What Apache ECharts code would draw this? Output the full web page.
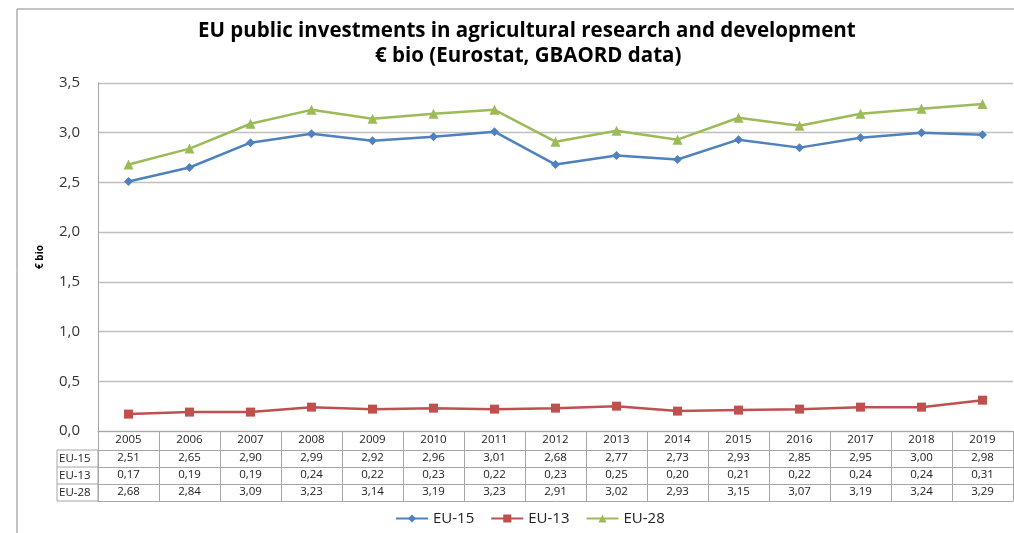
<!DOCTYPE html>
<html>
<head>
<meta charset="utf-8">
<script src="https://cdn.jsdelivr.net/npm/echarts@6/dist/echarts.min.js"></script>
<style>html,body{margin:0;padding:0;background:#fff}#c{width:1014px;height:533px}</style>
</head>
<body>
<div id="c"></div>
<script>
var years = ['2005','2006','2007','2008','2009','2010','2011','2012','2013','2014','2015','2016','2017','2018','2019'];
var seriesNames = ['EU-15','EU-13','EU-28'];
var eu15 = [2.51,2.65,2.90,2.99,2.92,2.96,3.01,2.68,2.77,2.73,2.93,2.85,2.95,3.00,2.98];
var eu13 = [0.17,0.19,0.19,0.24,0.22,0.23,0.22,0.23,0.25,0.20,0.21,0.22,0.24,0.24,0.31];
var eu28 = [2.68,2.84,3.09,3.23,3.14,3.19,3.23,2.91,3.02,2.93,3.15,3.07,3.19,3.24,3.29];
var titleLine1 = 'EU public investments in agricultural research and development';
var titleLine2 = '€ bio (Eurostat, GBAORD data)';
var yName = '€ bio';

var rows = [eu15, eu13, eu28];
var colors = ['#4F81BD','#C0504D','#9BBB59'];
var symbols = ['diamond','rect','triangle'];
var symSizes = [9,9,10];
var border = '#A6A6A6';
var fmt = function (v, d) { return v.toFixed(d).replace('.', ','); };
var font = '"Open Sans", "Noto Sans", sans-serif';

var chart = echarts.init(document.getElementById('c'));
var xAxes = [{
  type: 'category', data: years, boundaryGap: true, position: 'bottom',
  axisLine: { show: true, lineStyle: { color: border, width: 1 } },
  axisTick: { show: true, length: 70, lineStyle: { color: border } },
  axisLabel: { margin: 3, fontSize: 11.5, color: '#222', fontFamily: font }
}];
rows.forEach(function (arr, r) {
  xAxes.push({
    type: 'category', data: years, position: 'bottom', offset: 19 + 17 * r,
    axisLine: { show: true, lineStyle: { color: border } },
    axisTick: { show: false },
    axisLabel: { margin: 2, fontSize: 11.5, color: '#222', fontFamily: font,
      formatter: function (v, i) { return fmt(arr[i], 2); } }
  });
});
xAxes.push({
  type: 'category', data: years, position: 'bottom', offset: 70,
  axisLine: { show: true, lineStyle: { color: border } },
  axisTick: { show: false }, axisLabel: { show: false }
});

var graphics = [
  { type: 'rect', shape: { x: 17, y: 9, width: 1100, height: 700 }, style: { fill: 'none', stroke: '#888', lineWidth: 1 }, silent: true },
  { type: 'rect', shape: { x: 57, y: 450, width: 41, height: 51 }, style: { fill: 'none', stroke: border, lineWidth: 1 }, silent: true },
  { type: 'line', shape: { x1: 57, y1: 467, x2: 98, y2: 467 }, style: { stroke: border, lineWidth: 1 }, silent: true },
  { type: 'line', shape: { x1: 57, y1: 484, x2: 98, y2: 484 }, style: { stroke: border, lineWidth: 1 }, silent: true }
];
seriesNames.forEach(function (n, r) {
  graphics.push({ type: 'text', x: 59, y: 458.5 + 17 * r, style: { text: n, fontSize: 11.5, fill: '#222', fontFamily: font, verticalAlign: 'middle', align: 'left' }, silent: true });
});

var titleStyle = { fontSize: 20.5, fontWeight: 'bold', color: '#000', fontFamily: font };
chart.setOption({
  backgroundColor: '#fff',
  animation: false,
  title: [
    { text: titleLine1, left: 193, top: 16, textStyle: titleStyle },
    { text: titleLine2, left: 370, top: 41, textStyle: titleStyle }
  ],
  legend: {
    bottom: 2, left: 390, itemWidth: 32, itemHeight: 10, itemGap: 16,
    textStyle: { fontSize: 15, color: '#222', fontFamily: font },
    data: seriesNames
  },
  grid: { left: 98, right: 1, top: 83, bottom: 102, containLabel: false },
  xAxis: xAxes,
  yAxis: {
    type: 'value', min: 0, max: 3.5, interval: 0.5,
    name: yName, nameLocation: 'middle', nameGap: 53, nameRotate: 90,
    nameTextStyle: { fontSize: 10, fontWeight: 'bold', color: '#000', fontFamily: font },
    axisLine: { show: true, lineStyle: { color: border } },
    axisTick: { show: false },
    axisLabel: { margin: 18, fontSize: 15, color: '#333', fontFamily: font, formatter: function (v) { return fmt(v, 1); } },
    splitLine: { lineStyle: { color: '#BFBFBF', width: 1.3 } }
  },
  series: rows.map(function (arr, r) {
    return {
      name: seriesNames[r], type: 'line', data: arr, xAxisIndex: 0,
      symbol: symbols[r], symbolSize: symSizes[r],
      itemStyle: { color: colors[r] },
      lineStyle: { color: colors[r], width: 2.5 }
    };
  }),
  graphic: graphics
});
</script>
</body>
</html>
